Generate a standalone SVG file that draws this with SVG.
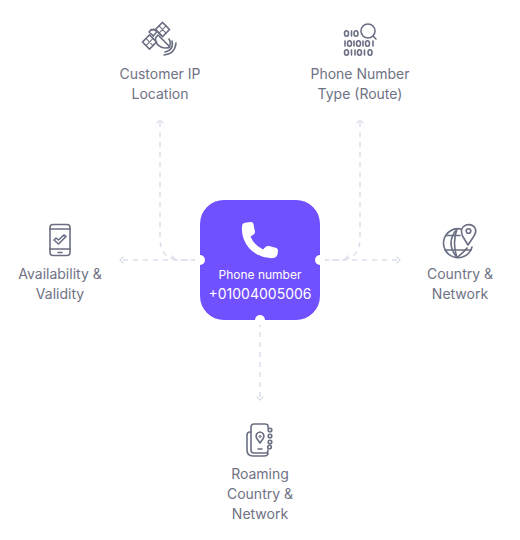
<svg xmlns="http://www.w3.org/2000/svg" width="520" height="540" viewBox="0 0 520 540">
<style>
.lbl{font-family:"Inter","Noto Sans","Liberation Sans",sans-serif;font-size:14px;fill:#6f7285;text-anchor:middle}
.ic{fill:none;stroke:#6a6e82;stroke-width:1.6;stroke-linecap:round;stroke-linejoin:round}
.th{stroke-width:1}
.con{fill:none;stroke:#dcdfea;stroke-width:1.5;stroke-dasharray:5 5}
.hd{fill:none;stroke:#dcdfea;stroke-width:1.2;stroke-linecap:round;stroke-linejoin:round}
.w{font-family:"Inter","Noto Sans","Liberation Sans",sans-serif;fill:#fff;text-anchor:middle}
</style>
<g id="connectors">
<path class="con" d="M160 122V238Q160 260 182 260H198"/>
<path class="con" d="M360 122V238Q360 260 338 260H322"/>
<path class="con" d="M198 260H122"/>
<path class="con" d="M322 260H398"/>
<path class="con" d="M260 322V398"/>
<path class="hd" d="M157 123L160 120L163 123"/>
<path class="hd" d="M357 123L360 120L363 123"/>
<path class="hd" d="M123 257L120 260L123 263"/>
<path class="hd" d="M397 257L400 260L397 263"/>
<path class="hd" d="M257 397L260 400L263 397"/>
<path class="hd" d="M172 256L175 259"/>
<path class="hd" d="M348 256L345 259"/>
</g>
<g id="center">
<rect x="200" y="200" width="120" height="120" rx="24" fill="#7150ff"/>
<circle cx="200" cy="260" r="5" fill="#fff"/>
<circle cx="320" cy="260" r="5" fill="#fff"/>
<circle cx="260" cy="320" r="5" fill="#fff"/>
<path fill="#fff" d="M243 223.500Q246 222 251 222Q253 222 253.500 224L255 232Q255 234 253 235L250.500 236.500Q254 245 263 249.500L265.500 247Q267 245.500 269 246L276.500 248Q278 248.500 278 250.500Q278 255 276 257Q274 258.500 270 258Q257 257 249 248Q241 238 242 227Q242 224.500 243 223.500Z"/>
<text class="w" x="260" y="279" font-size="12">Phone number</text>
<text class="w" x="260" y="299" font-size="14">+01004005006</text>
</g>
<g id="customer-ip">
<g class="ic">
<g transform="rotate(-45 149.500 42)"><rect x="144.500" y="37" width="10" height="10"/><path class="th" d="M149.500 37V47M144.500 42H154.500"/></g>
<g transform="rotate(-45 162.500 29.500)"><rect x="157.500" y="24.500" width="10" height="10"/><path class="th" d="M162.500 24.500V34.500M157.500 29.500H167.500"/></g>
<path d="M153 36L156 33Q158 30 151 29.500"/>
<path d="M153.500 36L149 32Q152 28 156 30L161 35"/>
<path d="M158 35L170 47Q165 49 161 47Q155 44 155.500 38Z"/>
<path d="M169 39Q172 44 168 48"/>
<path d="M172 41Q174 50 165 52"/>
<path d="M176 43Q175 54 164 55"/>
</g>
<text class="lbl" x="160" y="79">Customer IP</text>
<text class="lbl" x="160" y="99">Location</text>
</g>
<g id="phone-type">
<g class="ic">
<circle cx="368" cy="31" r="7"/><path d="M373 36L376 39"/>
<ellipse cx="346.500" cy="33.500" rx="2" ry="2.700"/><path d="M351.500 31V36"/><ellipse cx="356" cy="33.500" rx="2" ry="2.700"/>
<path d="M345 41V46"/><ellipse cx="349.500" cy="43.500" rx="2" ry="2.700"/><path d="M354 41V46"/><ellipse cx="358.500" cy="43.500" rx="2" ry="2.700"/><path d="M363 41V46"/><ellipse cx="367.500" cy="43.500" rx="2" ry="2.700"/><path d="M373 41V46"/>
<ellipse cx="346.500" cy="52.500" rx="2" ry="2.700"/><path d="M351.500 50V55M355 50V55"/><ellipse cx="359.500" cy="52.500" rx="2" ry="2.700"/><path d="M364.500 50V55"/><ellipse cx="370" cy="52.500" rx="2" ry="2.700"/>
</g>
<text class="lbl" x="360" y="79">Phone Number</text>
<text class="lbl" x="360" y="99">Type (Route)</text>
</g>
<g id="availability">
<g class="ic">
<rect x="50" y="224.500" width="20" height="31" rx="3"/>
<path d="M50 229H70M50 249H70M58 252.500H62"/>
<path d="M54 240L58.500 244L66 236.500L63.800 235L58.500 240L56 238Z"/>
</g>
<text class="lbl" x="60" y="279">Availability &amp;</text>
<text class="lbl" x="60" y="299">Validity</text>
</g>
<g id="country">
<g class="ic">
<path d="M461 229A14.500 14.500 0 1 0 472 247"/>
<path d="M457 229Q445 243 457 257.500Q465 251 467 248M457 229Q452 243 457 257.500"/>
<path d="M446 235.500H460M445 250H471"/>
<path d="M468 245L462.500 236Q459 228 466 225Q473 223.500 475.500 229Q476.500 232 474 236Z"/>
<circle cx="468.500" cy="231" r="2.300"/>
</g>
<text class="lbl" x="460" y="279">Country &amp;</text>
<text class="lbl" x="460" y="299">Network</text>
</g>
<g id="roaming">
<g class="ic">
<path d="M268 428V426Q268 424 265 424H254Q251 424 251 427V450Q251 453 254 453H266Q268 453 268 450"/>
<path d="M251 432H250Q247 432 247 435V450Q247 456 253 456H264Q268 456 268 453"/>
<path d="M260 443L256.500 438Q255 433 260 432Q265 433 263.500 438Z"/>
<circle cx="260" cy="436.500" r="1" class="th"/>
<path d="M258 449H262"/>
<circle cx="270" cy="430" r="1.800"/><circle cx="270" cy="436" r="1.800"/><circle cx="270" cy="442" r="1.800"/><circle cx="269.500" cy="447" r="1.800"/>
</g>
<text class="lbl" x="260" y="479">Roaming</text>
<text class="lbl" x="260" y="499">Country &amp;</text>
<text class="lbl" x="260" y="519">Network</text>
</g>
</svg>
